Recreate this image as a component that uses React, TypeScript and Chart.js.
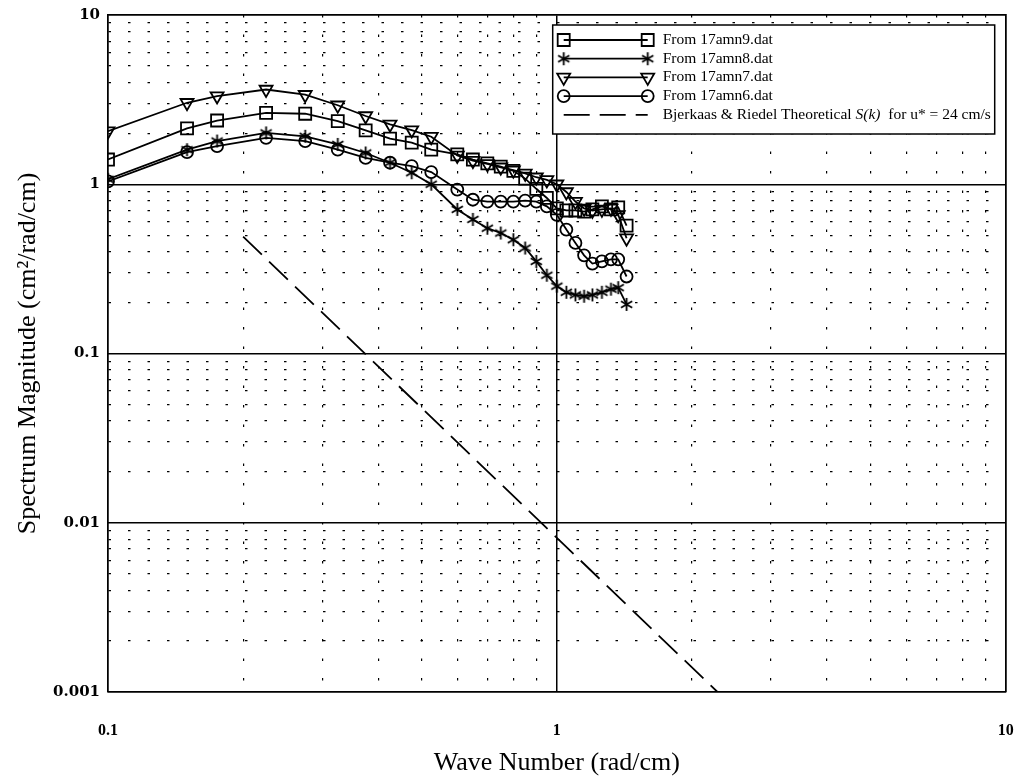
import React, { useEffect, useRef } from 'react';
import { Chart, registerables } from 'chart.js';
import { drawPoint } from 'chart.js/helpers';

Chart.register(...registerables);

// ---- data ----
const waveNumbers = [0.1, 0.15, 0.175, 0.225, 0.275, 0.325, 0.375, 0.425, 0.475, 0.525, 0.6, 0.65, 0.7, 0.75, 0.8, 0.85, 0.9, 0.95, 1.0, 1.05, 1.1, 1.15, 1.2, 1.26, 1.32, 1.37, 1.43];
const spec17amn9 = [1.40, 2.14, 2.38, 2.64, 2.61, 2.36, 2.08, 1.86, 1.76, 1.60, 1.50, 1.40, 1.33, 1.27, 1.20, 1.08, 0.94, 0.83, 0.72, 0.70, 0.70, 0.69, 0.71, 0.74, 0.71, 0.73, 0.57];
const spec17amn8 = [1.07, 1.60, 1.80, 2.01, 1.92, 1.72, 1.53, 1.34, 1.17, 1.00, 0.71, 0.62, 0.55, 0.515, 0.47, 0.42, 0.35, 0.29, 0.25, 0.23, 0.222, 0.218, 0.222, 0.23, 0.24, 0.245, 0.195];
const spec17amn7 = [2.06, 3.03, 3.32, 3.63, 3.38, 2.93, 2.53, 2.26, 2.09, 1.91, 1.48, 1.38, 1.32, 1.26, 1.21, 1.16, 1.10, 1.06, 1.00, 0.90, 0.79, 0.72, 0.70, 0.71, 0.72, 0.66, 0.48];
const spec17amn6 = [1.04, 1.55, 1.68, 1.88, 1.80, 1.60, 1.43, 1.34, 1.28, 1.18, 0.93, 0.81, 0.79, 0.79, 0.79, 0.80, 0.79, 0.74, 0.66, 0.54, 0.45, 0.38, 0.34, 0.35, 0.36, 0.36, 0.285];
const theoryK = [0.2, 2.28];
const theoryS = [0.49, 0.001];

const seriesLabels = ['From 17amn9.dat', 'From 17amn8.dat', 'From 17amn7.dat', 'From 17amn6.dat', 'Bjerkaas & Riedel Theoretical S(k)  for u* = 24 cm/s'];

const xMajorTicks = [0.1, 1, 10];
const xTickLabels = ['0.1', '1', '10'];
const yMajorTicks = [0.001, 0.01, 0.1, 1, 10];
const yTickLabels = ['0.001', '0.01', '0.1', '1', '10'];
const minorMultipliers = [2, 3, 4, 5, 6, 7, 8, 9];

const xTitle = 'Wave Number (rad/cm)';
const yTitle = 'Spectrum Magnitude (cm\u00B2/rad/cm)';

function minorTicks(majors: number[]): number[] {
  const out: number[] = [];
  for (let i = 0; i < majors.length - 1; i++) {
    for (const m of minorMultipliers) out.push(+(majors[i] * m).toPrecision(6));
  }
  return out;
}

function isMajor(v: number, majors: number[]) {
  return majors.some((m) => Math.abs(Math.log10(v) - Math.log10(m)) < 1e-6);
}

function makeAsterisk(size: number, lw: number): HTMLCanvasElement {
  const c = document.createElement('canvas');
  c.width = size;
  c.height = size;
  const ctx = c.getContext('2d')!;
  ctx.strokeStyle = '#000';
  ctx.lineWidth = lw;
  const r = size / 2 - 1;
  const cx = size / 2;
  const cy = size / 2;
  ctx.beginPath();
  for (const a of [90, 30, -30]) {
    const rad = (a * Math.PI) / 180;
    ctx.moveTo(cx - r * Math.cos(rad), cy - r * Math.sin(rad));
    ctx.lineTo(cx + r * Math.cos(rad), cy + r * Math.sin(rad));
  }
  ctx.stroke();
  return c;
}

const serif = "'Liberation Serif', 'Times New Roman', serif";

const boxLegend = {
  id: 'boxLegend',
  afterDraw(chart: any) {
    const { ctx, chartArea } = chart;
    const w = 442;
    const h = 109;
    const left = chartArea.right - 453;
    const top = chartArea.top + 10;
    ctx.save();
    ctx.fillStyle = '#fff';
    ctx.fillRect(left, top, w, h);
    ctx.strokeStyle = '#000';
    ctx.lineWidth = 1.5;
    ctx.strokeRect(left, top, w, h);
    chart.data.datasets.forEach((ds: any, i: number) => {
      const y = top + 15 + i * 18.7;
      const x1 = left + 11;
      const x2 = left + 95;
      ctx.save();
      ctx.strokeStyle = '#000';
      ctx.lineWidth = ds.borderWidth;
      ctx.setLineDash(ds.borderDash || []);
      ctx.beginPath();
      ctx.moveTo(x1, y);
      ctx.lineTo(x2, y);
      ctx.stroke();
      ctx.setLineDash([]);
      if (ds.pointRadius > 0) {
        ctx.fillStyle = 'rgba(0,0,0,0)';
        ctx.strokeStyle = '#000';
        ctx.lineWidth = ds.pointBorderWidth;
        for (const px of [x1, x2]) {
          drawPoint(ctx, { pointStyle: ds.pointStyle, rotation: ds.pointRotation || 0, radius: ds.pointRadius, borderWidth: ds.pointBorderWidth }, px, y);
        }
      }
      ctx.restore();
      ctx.fillStyle = '#000';
      ctx.textBaseline = 'middle';
      ctx.textAlign = 'left';
      const label: string = ds.label;
      const parts = label.split(/(S\(k\))/);
      let tx = left + 110;
      for (const p of parts) {
        if (!p) continue;
        ctx.font = p === 'S(k)' ? `italic 15.5px ${serif}` : `15.5px ${serif}`;
        ctx.fillText(p, tx, y);
        tx += ctx.measureText(p).width;
      }
    });
    ctx.restore();
  },
};

const zeroPad = (s: any) => {
  s.paddingLeft = 0;
  s.paddingRight = 0;
  s.paddingTop = 0;
  s.paddingBottom = 0;
};

export default function App() {
  const canvasRef = useRef<HTMLCanvasElement | null>(null);

  useEffect(() => {
    const canvas = canvasRef.current;
    if (!canvas) return;
    const asterisk = makeAsterisk(15, 1.8);
    const pts = (ys: number[]) => waveNumbers.map((k, i) => ({ x: k, y: ys[i] }));
    const common = {
      borderColor: '#000',
      backgroundColor: 'rgba(0,0,0,0)',
      borderWidth: 1.8,
      pointBorderColor: '#000',
      pointBackgroundColor: 'rgba(0,0,0,0)',
      pointBorderWidth: 1.8,
      tension: 0,
      xAxisID: 'x',
      yAxisID: 'y',
    };

    const xAll = [...xMajorTicks, ...minorTicks(xMajorTicks)].sort((a, b) => a - b);
    const yAll = [...yMajorTicks, ...minorTicks(yMajorTicks)].sort((a, b) => a - b);

    const chart = new Chart(canvas, {
      type: 'line',
      data: {
        datasets: [
          { ...common, label: seriesLabels[0], data: pts(spec17amn9), pointStyle: 'rect', pointRadius: 8.5 },
          { ...common, label: seriesLabels[1], data: pts(spec17amn8), pointStyle: asterisk, pointRadius: 7 },
          { ...common, label: seriesLabels[2], data: pts(spec17amn7), pointStyle: 'triangle', pointRotation: 180, pointRadius: 7.5 },
          { ...common, label: seriesLabels[3], data: pts(spec17amn6), pointStyle: 'circle', pointRadius: 6 },
          {
            ...common,
            label: seriesLabels[4],
            data: theoryK.map((k, i) => ({ x: k, y: theoryS[i] })),
            borderDash: [26, 10],
            borderWidth: 1.8,
            pointRadius: 0,
          },
        ] as any,
      },
      options: {
        responsive: false,
        animation: false,
        layout: { padding: { top: 15, right: 8, left: 0, bottom: 0 } },
        plugins: { legend: { display: false }, tooltip: { enabled: false } },
        scales: {
          x: {
            type: 'logarithmic',
            position: 'bottom',
            min: 0.1,
            max: 10,
            afterBuildTicks: (s: any) => {
              s.ticks = xAll.map((v) => ({ value: v }));
            },
            afterFit: (s: any) => {
              s.height = 84;
              zeroPad(s);
            },
            ticks: {
              autoSkip: false,
              maxRotation: 0,
              padding: 29,
              color: '#000',
              font: { family: serif, size: 16, weight: 'bold' },
              callback: (v: any) => {
                const i = xMajorTicks.findIndex((m) => Math.abs(m - v) < 1e-9);
                return i >= 0 ? xTickLabels[i] : '';
              },
            },
            grid: {
              drawTicks: false,
              color: '#000',
              lineWidth: (c: any) => (c.tick && isMajor(c.tick.value, xMajorTicks) ? 0 : 1.2),
            },
            border: { display: true, color: '#000', width: 1.5, dash: [2.5, 17] },
            title: {
              display: true,
              text: xTitle,
              color: '#000',
              font: { family: serif, size: 26, lineHeight: 1 },
              padding: { top: 0, bottom: 0 },
            },
          },
          x2: {
            type: 'logarithmic',
            position: 'top',
            min: 0.1,
            max: 10,
            afterBuildTicks: (s: any) => {
              s.ticks = xMajorTicks.map((v) => ({ value: v }));
            },
            afterFit: (s: any) => {
              s.height = 0;
              zeroPad(s);
            },
            ticks: { display: false },
            grid: { drawTicks: false, color: '#000', lineWidth: 1.5 },
            border: { display: true, color: '#000', width: 1.5 },
          },
          y: {
            type: 'logarithmic',
            position: 'left',
            min: 0.001,
            max: 10,
            afterBuildTicks: (s: any) => {
              s.ticks = yAll.map((v) => ({ value: v }));
            },
            afterFit: (s: any) => {
              s.width = 108;
              zeroPad(s);
            },
            ticks: {
              autoSkip: false,
              padding: 8,
              color: '#000',
              font: { family: "'DejaVu Serif', serif", size: 15, weight: 'bold' },
              callback: (v: any) => {
                const i = yMajorTicks.findIndex((m) => Math.abs(Math.log10(m) - Math.log10(v)) < 1e-6);
                return i >= 0 ? yTickLabels[i] : '';
              },
            },
            grid: {
              drawTicks: false,
              color: '#000',
              lineWidth: (c: any) => (c.tick && isMajor(c.tick.value, yMajorTicks) ? 0 : 1.2),
            },
            border: { display: true, color: '#000', width: 1.5, dash: [2.5, 17] },
            title: {
              display: true,
              text: yTitle,
              color: '#000',
              font: { family: serif, size: 26, lineHeight: 1 },
              padding: { top: 15, bottom: 0 },
            },
          },
          y2: {
            type: 'logarithmic',
            position: 'right',
            min: 0.001,
            max: 10,
            afterBuildTicks: (s: any) => {
              s.ticks = yMajorTicks.map((v) => ({ value: v }));
            },
            afterFit: (s: any) => {
              s.width = 0;
              zeroPad(s);
            },
            ticks: { display: false },
            grid: { drawTicks: false, color: '#000', lineWidth: 1.5 },
            border: { display: true, color: '#000', width: 1.5 },
          },
        } as any,
      },
      plugins: [boxLegend],
    });
    return () => chart.destroy();
  }, []);

  return (
    <div style={{ position: 'fixed', left: 0, top: 0, width: 1016, height: 776, background: '#fff' }}>
      <canvas ref={canvasRef} width={1016} height={776} style={{ display: 'block' }} />
    </div>
  );
}
